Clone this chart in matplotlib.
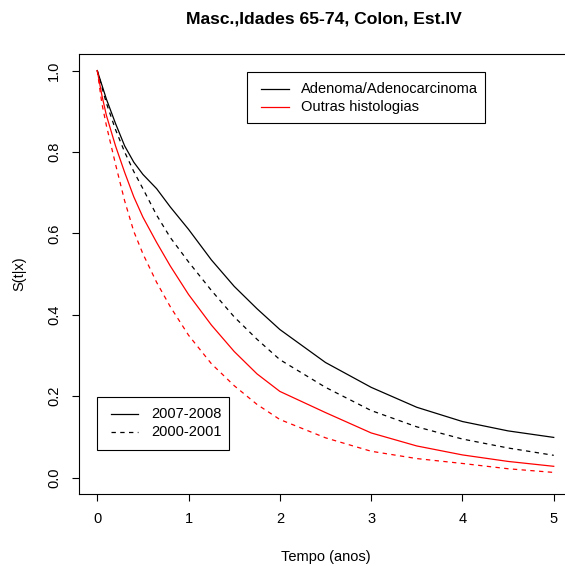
import matplotlib
matplotlib.use("Agg")
import matplotlib.pyplot as plt
from matplotlib.patches import Rectangle
from matplotlib.lines import Line2D

plt.rcParams['font.family'] = ['Liberation Sans', 'DejaVu Sans']

# Tempo (anos) e curvas de sobrevivência
tempo = [0, 0.05, 0.1, 0.2, 0.3, 0.4, 0.5, 0.65, 0.8, 1.0,
         1.25, 1.5, 1.75, 2.0, 2.5, 3.0, 3.5, 4.0, 4.5, 5.0]
adeno_2007 = [1.0, 0.965, 0.93, 0.87, 0.815, 0.775, 0.745, 0.71, 0.665, 0.61,
              0.535, 0.47, 0.415, 0.364, 0.283, 0.222, 0.173, 0.138, 0.115, 0.099]
adeno_2000 = [1.0, 0.96, 0.92, 0.855, 0.80, 0.752, 0.71, 0.645, 0.59, 0.53,
              0.46, 0.395, 0.34, 0.29, 0.222, 0.165, 0.125, 0.095, 0.073, 0.055]
outras_2007 = [1.0, 0.94, 0.89, 0.815, 0.75, 0.69, 0.64, 0.578, 0.52, 0.45,
               0.375, 0.31, 0.255, 0.212, 0.16, 0.11, 0.078, 0.056, 0.04, 0.028]
outras_2000 = [1.0, 0.92, 0.865, 0.77, 0.68, 0.605, 0.55, 0.48, 0.42, 0.35,
               0.28, 0.226, 0.18, 0.143, 0.098, 0.065, 0.047, 0.035, 0.022, 0.013]

x_ticks = [0, 1, 2, 3, 4, 5]
y_ticks = [0.0, 0.2, 0.4, 0.6, 0.8, 1.0]

W, H = 565, 566
FS = 10.5
DASH = (0, (3.5, 3.5))


def fx(px):
    return px / W


def fy(py):
    return 1 - py / H


def r_legend(fig, box, rows, handle_x, text_x):
    """Легенда в стилі R: рамка, відрізки ліній і підписи (координати в пікселях)"""
    x0, y0, x1, y1 = box
    fig.add_artist(Rectangle((fx(x0), fy(y1)), fx(x1) - fx(x0), fy(y0) - fy(y1),
                             transform=fig.transFigure, fill=False,
                             edgecolor='black', lw=0.8))
    for y, label, color, ls in rows:
        fig.add_artist(Line2D([fx(handle_x[0]), fx(handle_x[1])], [fy(y), fy(y)],
                              transform=fig.transFigure, color=color, lw=0.9, linestyle=ls))
        fig.text(fx(text_x), fy(y), label, fontsize=FS, va='center', ha='left')


fig = plt.figure(figsize=(W / 100, H / 100), dpi=100)
ax = fig.add_axes([fx(79), fy(494), fx(572) - fx(79), fy(54.3) - fy(494)])

ax.plot(tempo, adeno_2007, color='black', lw=0.9)
ax.plot(tempo, adeno_2000, color='black', lw=0.9, linestyle=DASH)
ax.plot(tempo, outras_2007, color='red', lw=0.9)
ax.plot(tempo, outras_2000, color='red', lw=0.9, linestyle=DASH)

ax.set_xlim(-0.2, 5.2)
ax.set_ylim(-0.04, 1.04)
ax.set_xticks(x_ticks)
ax.set_xticklabels([str(v) for v in x_ticks])
ax.set_yticks(y_ticks)
ax.set_yticklabels([f"{v:.1f}" for v in y_ticks])
ax.tick_params(direction='out', length=5.2, width=0.8, labelsize=FS, pad=7.5)
ax.tick_params(axis='y', labelrotation=90)
for lab in ax.get_yticklabels():
    lab.set_va('center')
for sp in ax.spines.values():
    sp.set_linewidth(0.8)

fig.text(fx(324), fy(19), "Masc.,Idades 65-74, Colon, Est.IV",
         fontsize=12.6, fontweight='bold', ha='center', va='center')
fig.text(fx(326), fy(557), "Tempo (anos)", fontsize=FS, ha='center', va='center')
fig.text(fx(19), fy(274), "S(t|x)", fontsize=FS, ha='center', va='center', rotation=90)

r_legend(fig, (247, 72, 485, 123),
         [(89, "Adenoma/Adenocarcinoma", 'black', '-'),
          (107, "Outras histologias", 'red', '-')],
         (261, 289), 301)
r_legend(fig, (97, 397, 229, 450),
         [(414, "2007-2008", 'black', '-'),
          (432, "2000-2001", 'black', DASH)],
         (111, 138), 151)

fig.savefig("out.png", dpi=100)
